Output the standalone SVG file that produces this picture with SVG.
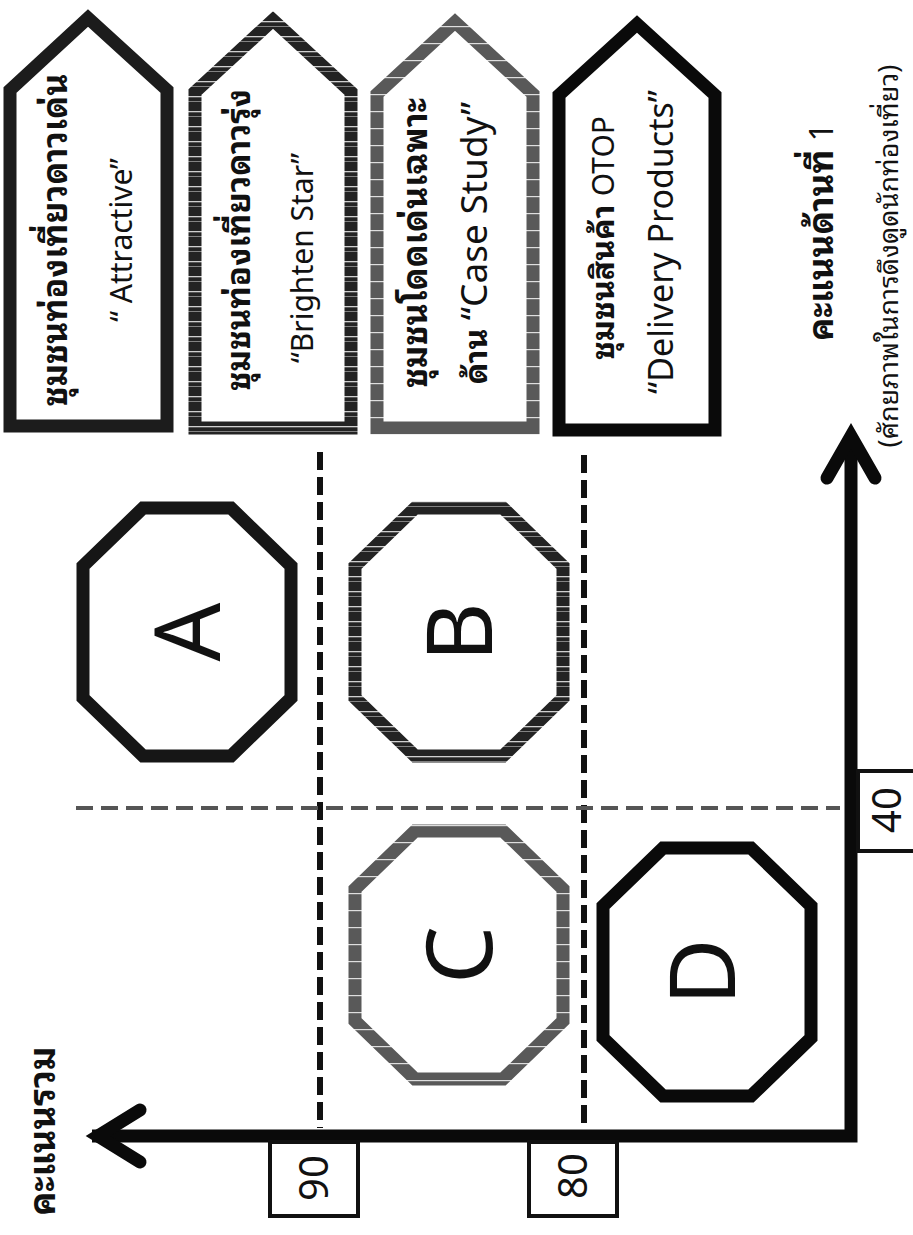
<svg xmlns="http://www.w3.org/2000/svg" width="913" height="1235" viewBox="0 0 913 1235">
<style>
.th{font-family:"Noto Sans Thai Looped","Noto Sans Thai","Noto Sans","DejaVu Sans",sans-serif;font-weight:700;fill:#111}
.thr{font-family:"Noto Sans Thai Looped","Noto Sans Thai","Noto Sans","DejaVu Sans",sans-serif;font-weight:400;fill:#111}
.en{font-family:"Noto Sans","Open Sans",sans-serif;font-weight:400;fill:#111}
.big{font-family:"Noto Sans","Open Sans",sans-serif;font-size:92px;fill:#111}
.num{font-family:"Noto Sans","Open Sans",sans-serif;font-size:40px;fill:#111}
.shape{fill:#fff;stroke-width:13;stroke-linejoin:miter}
.box{fill:#fff;stroke:#111;stroke-width:4}
.axis{fill:none;stroke:#0a0a0a;stroke-width:13;stroke-linejoin:miter}
.head{fill:none;stroke:#0a0a0a;stroke-width:13;stroke-linecap:round;stroke-linejoin:miter}
.dash{fill:none;stroke:#111;stroke-width:6;stroke-dasharray:18 7}
.dashg{fill:none;stroke:#555;stroke-width:4;stroke-dasharray:17 8}
</style>
<defs>
<pattern id="stripeDark" patternUnits="userSpaceOnUse" width="10" height="15">
<rect width="10" height="15" fill="#232323"/>
<rect y="6" width="10" height="1.3" fill="#cfcfcf"/>
<rect y="11" width="10" height="0.8" fill="#9a9a9a"/>
</pattern>
<pattern id="stripeGray" patternUnits="userSpaceOnUse" width="10" height="17">
<rect width="10" height="17" fill="#595959"/>
<rect y="9" width="10" height="1.2" fill="#dedede"/>
</pattern>
</defs>
<rect width="913" height="1235" fill="#fff"/>

<g id="connectors">
<line class="dash" x1="320" y1="452" x2="320" y2="1128"/>
<line class="dash" x1="584" y1="455" x2="584" y2="1128"/>
<line class="dashg" x1="76" y1="808" x2="840" y2="808"/>
<polyline class="axis" points="92,1136 851,1136 851,440"/>
<polyline class="head" points="140,1110 98,1136 140,1162"/>
<polyline class="head" points="827,478 851,436 875,478"/>
</g>

<g id="label-attractive">
<path class="shape" stroke="#1c1c1c" d="M10,426 L10,90 L88,18 L167,90 L167,426 Z"/>
<text class="th" font-size="34" text-anchor="middle" transform="translate(67,240) rotate(-90)">ชุมชนท่องเที่ยวดาวเด่น</text>
<text class="en" font-size="30" text-anchor="middle" transform="translate(132,240) rotate(-90)">“ Attractive”</text>
</g>

<g id="label-brighten">
<path class="shape" stroke="url(#stripeDark)" d="M195,428 L195,92 L273,20 L351,92 L351,428 Z"/>
<text class="th" font-size="33" text-anchor="middle" transform="translate(250,240) rotate(-90)">ชุมชนท่องเที่ยวดาวรุ่ง</text>
<text class="en" font-size="30" text-anchor="middle" transform="translate(313,258) rotate(-90)">“Brighten Star”</text>
</g>

<g id="label-case">
<path class="shape" stroke="url(#stripeGray)" d="M377,428 L377,94 L455,22 L533,94 L533,428 Z"/>
<text class="th" font-size="34" text-anchor="middle" transform="translate(427,243) rotate(-90)">ชุมชนโดดเด่นเฉพาะ</text>
<text text-anchor="middle" transform="translate(487,243) rotate(-90)"><tspan class="th" font-size="32">ด้าน </tspan><tspan class="en" font-size="37">“Case Study”</tspan></text>
</g>

<g id="label-delivery">
<path class="shape" stroke="#0a0a0a" d="M559,430 L559,95 L637,24 L715,95 L715,430 Z"/>
<text text-anchor="middle" transform="translate(614,238) rotate(-90)"><tspan class="th" font-size="32">ชุมชนสินค้า </tspan><tspan class="en" font-size="30">OTOP</tspan></text>
<text class="en" font-size="34" text-anchor="middle" transform="translate(673,242) rotate(-90)">“Delivery Products”</text>
</g>

<g id="node-A">
<polygon class="shape" stroke="#161616" points="143,508 231,508 291,566 291,698 231,756 143,756 83,698 83,566"/>
<text class="big" text-anchor="middle" transform="translate(220,632) rotate(-90)">A</text>
</g>
<g id="node-B">
<polygon class="shape" stroke="url(#stripeDark)" points="415,508 503,508 563,566 563,698 503,756 415,756 355,698 355,566"/>
<text class="big" text-anchor="middle" transform="translate(492,632) rotate(-90)">B</text>
</g>
<g id="node-C">
<polygon class="shape" stroke="url(#stripeGray)" points="415,831 503,831 563,889 563,1021 503,1079 415,1079 355,1021 355,889"/>
<text class="big" text-anchor="middle" transform="translate(492,955) rotate(-90)">C</text>
</g>
<g id="node-D">
<polygon class="shape" stroke="#0a0a0a" points="663,848 751,848 811,906 811,1038 751,1096 663,1096 603,1038 603,906"/>
<text class="big" text-anchor="middle" transform="translate(735,972) rotate(-90)">D</text>
</g>

<g id="tick-90">
<rect class="box" x="270" y="1142" width="88" height="74"/>
<text class="num" text-anchor="middle" transform="translate(328,1178) rotate(-90)">90</text>
</g>
<g id="tick-80">
<rect class="box" x="529" y="1142" width="88" height="74"/>
<text class="num" text-anchor="middle" transform="translate(587,1176) rotate(-90)">80</text>
</g>
<g id="tick-40">
<rect class="box" x="858" y="771" width="76" height="80"/>
<text class="num" font-size="38" text-anchor="middle" transform="translate(901,810) rotate(-90)">40</text>
</g>

<g id="axis-labels">
<text class="th" font-size="36" text-anchor="middle" transform="translate(55,1131) rotate(-90)">คะแนนรวม</text>
<text text-anchor="middle" transform="translate(833,232) rotate(-90)"><tspan class="th" font-size="35">คะแนนด้านที่</tspan><tspan class="en" font-size="32"> 1</tspan></text>
<text class="thr" font-size="27" text-anchor="middle" transform="translate(898,256) rotate(-90)">(ศักยภาพในการดึงดูดนักท่องเที่ยว)</text>
</g>
</svg>
